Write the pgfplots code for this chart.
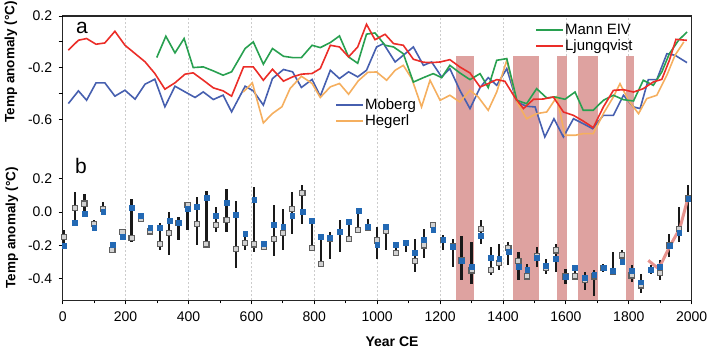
\documentclass[border=0pt]{standalone}
\usepackage{fontspec}
\setmainfont{Liberation Sans}
\usepackage{pgfplots}
\pgfplotsset{compat=1.18}
\usepackage{pgfplotstable}

\definecolor{cgreen}{RGB}{40,160,80}
\definecolor{cred}{RGB}{235,45,40}
\definecolor{cblue}{RGB}{70,95,175}
\definecolor{corange}{RGB}{245,175,95}
\definecolor{cpink}{RGB}{222,162,160}
\definecolor{cmark}{RGB}{35,105,180}
\definecolor{cgray}{RGB}{95,95,95}
\definecolor{cline}{RGB}{230,135,130}

\pgfplotstableread{
year val
18 -0.476
50 -0.378
76 -0.450
106 -0.316
134 -0.316
166 -0.419
198 -0.373
230 -0.442
262 -0.326
293 -0.288
325 -0.501
357 -0.342
389 -0.386
421 -0.429
447 -0.386
479 -0.445
510 -0.411
537 -0.540
580 -0.342
606 -0.378
638 -0.488
667 -0.283
702 -0.213
731 -0.231
759 -0.352
793 -0.290
819 -0.419
851 -0.219
880 -0.283
909 -0.231
938 -0.270
966 -0.219
998 -0.039
1020 -0.013
1057 -0.155
1083 -0.103
1115 -0.039
1147 -0.181
1173 -0.155
1205 -0.271
1231 -0.206
1263 -0.374
1295 -0.515
1327 -0.353
1353 -0.276
1380 -0.335
1412 -0.206
1444 -0.464
1475 -0.497
1502 -0.502
1533 -0.734
1562 -0.593
1592 -0.734
1624 -0.593
1655 -0.631
1685 -0.670
1719 -0.567
1751 -0.567
1783 -0.412
1815 -0.502
1836 -0.515
1862 -0.291
1889 -0.291
1921 -0.091
1947 -0.103
1985 -0.160
}\moberg

\pgfplotstableread{
year val
574 -0.387
603 -0.316
638 -0.625
667 -0.553
697 -0.501
723 -0.360
759 -0.265
793 -0.321
819 -0.429
851 -0.347
880 -0.321
909 -0.404
940 -0.300
970 -0.235
998 -0.232
1030 -0.296
1057 -0.219
1083 -0.181
1110 -0.284
1141 -0.502
1168 -0.296
1200 -0.451
1231 -0.412
1263 -0.464
1295 -0.374
1321 -0.425
1353 -0.528
1380 -0.387
1412 -0.142
1444 -0.464
1475 -0.593
1507 -0.554
1539 -0.541
1571 -0.425
1597 -0.721
1629 -0.721
1655 -0.708
1687 -0.708
1719 -0.554
1751 -0.425
1772 -0.322
1799 -0.451
1831 -0.554
1857 -0.438
1889 -0.412
1921 -0.257
1947 -0.103
1975 0.000
}\hegerl

\pgfplotstableread{
year val
299 -0.121
328 0.044
357 -0.085
386 0.026
415 -0.198
447 -0.193
479 -0.224
510 -0.257
537 -0.231
580 -0.051
606 0.000
638 -0.172
667 -0.051
702 -0.111
731 -0.121
759 -0.121
793 -0.026
819 -0.044
851 -0.005
880 0.046
909 -0.116
938 -0.165
966 0.060
993 0.069
1025 -0.026
1052 -0.039
1083 -0.091
1115 -0.310
1147 -0.276
1178 -0.245
1205 -0.276
1231 -0.181
1263 -0.240
1295 -0.291
1327 -0.245
1353 -0.353
1380 -0.142
1412 -0.129
1444 -0.451
1475 -0.477
1507 -0.361
1539 -0.433
1565 -0.425
1597 -0.443
1629 -0.387
1655 -0.528
1687 -0.528
1719 -0.451
1751 -0.412
1783 -0.446
1815 -0.456
1846 -0.296
1878 -0.335
1905 -0.232
1929 -0.091
1958 0.012
1985 0.077
}\mann

\pgfplotstableread{
year val
18 -0.064
50 0.013
76 0.026
106 -0.018
134 -0.008
166 0.082
198 -0.026
230 -0.090
262 -0.154
293 -0.244
325 -0.365
357 -0.316
389 -0.249
415 -0.239
447 -0.296
479 -0.355
510 -0.378
537 -0.419
575 -0.193
606 -0.193
638 -0.296
667 -0.211
702 -0.303
731 -0.270
759 -0.249
793 -0.244
819 -0.206
851 -0.026
880 -0.039
909 -0.116
938 -0.039
966 0.136
993 0.017
1025 0.059
1052 -0.013
1083 -0.026
1115 -0.134
1147 -0.157
1173 -0.160
1200 -0.155
1231 -0.137
1263 -0.194
1295 -0.240
1327 -0.348
1353 -0.322
1380 -0.291
1406 -0.304
1438 -0.430
1465 -0.515
1497 -0.443
1528 -0.441
1560 -0.425
1592 -0.541
1624 -0.567
1655 -0.611
1687 -0.662
1719 -0.503
1751 -0.374
1783 -0.369
1815 -0.387
1846 -0.361
1878 -0.309
1905 -0.289
1929 -0.142
1950 0.020
1985 0.012
}\ljung

\pgfplotstableread{
year blue gray lo hi
5 -0.200 -0.150 -0.200 -0.110
39 -0.066 0.026 -0.066 0.120
69 -0.010 0.050 -0.010 0.106
100 -0.094 -0.070 -0.100 -0.050
129 0.000 0.020 0.000 0.060
158 -0.194 -0.226 -0.230 -0.180
190 -0.146 -0.120 -0.150 -0.110
219 0.026 -0.154 -0.180 0.080
248 -0.022 -0.040 -0.050 -0.010
278 -0.094 -0.116 -0.120 -0.086
309 -0.094 -0.190 -0.230 -0.066
339 -0.054 -0.126 -0.260 0.000
368 -0.066 -0.066 -0.170 -0.030
397 0.020 0.040 -0.110 0.050
427 0.030 -0.074 -0.200 0.090
457 0.084 -0.194 -0.194 0.126
487 -0.020 -0.076 -0.120 0.030
521 0.054 -0.050 -0.120 0.140
551 -0.014 -0.220 -0.334 0.066
580 -0.130 -0.186 -0.230 -0.120
609 0.076 -0.194 -0.240 0.150
640 -0.190 -0.210 -0.220 -0.180
672 -0.074 -0.160 -0.266 0.040
701 -0.086 -0.126 -0.230 0.020
730 -0.020 0.020 -0.130 0.120
762 0.000 0.114 -0.070 0.160
792 -0.054 -0.214 -0.230 -0.050
821 -0.150 -0.310 -0.330 -0.150
850 -0.154 -0.160 -0.280 -0.120
882 -0.116 -0.120 -0.240 -0.046
910 -0.060 -0.160 -0.170 -0.050
940 0.010 -0.106 -0.110 0.020
970 -0.090 -0.094 -0.110 -0.040
1000 -0.194 -0.170 -0.280 -0.090
1028 -0.086 -0.114 -0.230 -0.080
1060 -0.194 -0.246 -0.260 -0.200
1091 -0.186 -0.186 -0.240 -0.180
1120 -0.246 -0.294 -0.360 -0.160
1149 -0.166 -0.200 -0.274 -0.100
1178 -0.106 -0.080 -0.110 -0.070
1210 -0.166 -0.166 -0.230 -0.140
1240 -0.210 -0.206 -0.330 -0.160
1268 -0.290 -0.290 -0.410 -0.146
1300 -0.326 -0.350 -0.430 -0.180
1330 -0.140 -0.100 -0.194 -0.046
1361 -0.274 -0.346 -0.380 -0.210
1388 -0.280 -0.306 -0.350 -0.194
1417 -0.240 -0.216 -0.320 -0.180
1449 -0.326 -0.294 -0.410 -0.240
1477 -0.346 -0.386 -0.410 -0.310
1507 -0.274 -0.266 -0.330 -0.210
1537 -0.320 -0.334 -0.374 -0.280
1568 -0.280 -0.230 -0.360 -0.190
1599 -0.386 -0.386 -0.430 -0.340
1629 -0.334 -0.386 -0.410 -0.320
1661 -0.394 -0.406 -0.466 -0.360
1690 -0.374 -0.386 -0.506 -0.346
1719 -0.334 -0.334 -0.360 -0.310
1749 -0.354 -0.360 -0.380 -0.240
1779 -0.300 -0.260 -0.320 -0.230
1809 -0.350 -0.380 -0.420 -0.320
1839 -0.420 -0.440 -0.486 -0.370
1870 -0.346 -0.346 -0.374 -0.320
1899 -0.330 -0.366 -0.410 -0.290
1929 -0.200 -0.200 -0.270 -0.130
1960 -0.126 -0.100 -0.180 0.030
1989 0.080 0.080 -0.120 0.160
}\bdata

\pgfplotsset{
  base/.style={
    scale only axis, width=629pt, height=284.3pt,
    at={(62.7pt,48.7pt)}, anchor=south west,
    xmin=0, xmax=2000,
    tick align=outside, major tick length=4pt, minor tick length=3pt,
    every tick/.style={black, line width=0.9pt},
    tick label style={font=\fontsize{14}{16}\selectfont},
    tick pos=left,
  },
}

\begin{document}
\begin{tikzpicture}
\path[use as bounding box] (0pt,0pt) rectangle (712pt,349pt);

% bottom panel + frame
\begin{axis}[base,
  ymin=-0.529, ymax=1.174,
  axis line style={line width=1.1pt, black!85},
  xtick={0,200,...,2000},
  xticklabels={0,200,400,600,800,1000,1200,1400,1600,1800,2000},
  minor x tick num=1,
  ytick={-0.4,-0.2,0,0.2},
  yticklabels={-0.4,-0.2,0.0,0.2},
  xticklabel style={yshift=-4pt},
  yticklabel style={xshift=-3pt},
  xmajorgrids, grid style={gray!40, line width=0.8pt, dash pattern=on 2pt off 2pt},
]
\addplot[fill=cpink, draw=none, forget plot] coordinates {(1252,-0.529) (1307,-0.529) (1307,0.934) (1252,0.934)} -- cycle;
\addplot[fill=cpink, draw=none, forget plot] coordinates {(1431,-0.529) (1515,-0.529) (1515,0.934) (1431,0.934)} -- cycle;
\addplot[fill=cpink, draw=none, forget plot] coordinates {(1573,-0.529) (1604,-0.529) (1604,0.934) (1573,0.934)} -- cycle;
\addplot[fill=cpink, draw=none, forget plot] coordinates {(1637,-0.529) (1701,-0.529) (1701,0.934) (1637,0.934)} -- cycle;
\addplot[fill=cpink, draw=none, forget plot] coordinates {(1791,-0.529) (1817,-0.529) (1817,0.934) (1791,0.934)} -- cycle;

\addplot[only marks, mark=none, forget plot,
  error bars/.cd, y dir=both, y explicit, error mark=none,
  error bar style={draw=black!90, line width=2.2pt}]
  table[x=year, y=gray, y error plus expr=\thisrow{hi}-\thisrow{gray}, y error minus expr=\thisrow{gray}-\thisrow{lo}] {\bdata};
\addplot[cline, line width=3pt, opacity=0.9, forget plot] coordinates {(1862,-0.29) (1888,-0.33) (1903,-0.31) (1932,-0.20) (1962,-0.10) (1989,0.09)};
\addplot[only marks, mark=square*, mark size=2.6pt, mark options={draw=cgray, line width=1.1pt, fill=gray!35}, forget plot] table[x=year, y=gray] {\bdata};
\addplot[only marks, mark=square*, mark size=2.4pt, mark options={draw=cmark, fill=cmark}, forget plot] table[x=year, y=blue] {\bdata};
\end{axis}

% top panel: Moberg, Hegerl
\begin{axis}[base,
  ymin=-1.995, ymax=0.2,
  hide x axis, axis y line*=left, y axis line style={draw=none},
  ytick={0.2,0,-0.2,-0.4,-0.6},
  yticklabels={0.2,,-0.2,,-0.6},
  yticklabel style={xshift=-3pt},
  legend cell align=left,
  legend style={draw=none, fill=none, inner sep=0pt, row sep=1.5pt,
    font=\fontsize{15}{18}\selectfont, nodes={inner sep=1pt},
    at={(rel axis cs:0.433,0.712)}, anchor=north west},
]
\addplot[cblue, line width=1.6pt,
  legend image code/.code={\draw[cblue, line width=1.8pt] (0pt,0pt) -- (27pt,0pt);}]
  table[x=year, y=val] {\moberg};
\addlegendentry{Moberg}
\addplot[corange, line width=1.6pt,
  legend image code/.code={\draw[corange, line width=1.8pt] (0pt,0pt) -- (27pt,0pt);}]
  table[x=year, y=val] {\hegerl};
\addlegendentry{Hegerl}
\end{axis}

% top panel: Mann EIV, Ljungqvist
\begin{axis}[base,
  ymin=-1.995, ymax=0.2,
  hide x axis, hide y axis,
  legend cell align=left,
  legend style={draw=none, fill=none, inner sep=0pt, row sep=1.5pt,
    font=\fontsize{15}{18}\selectfont, nodes={inner sep=1pt},
    at={(rel axis cs:0.751,0.975)}, anchor=north west},
]
\addplot[cgreen, line width=1.6pt,
  legend image code/.code={\draw[cgreen, line width=1.8pt] (0pt,0pt) -- (27pt,0pt);}]
  table[x=year, y=val] {\mann};
\addlegendentry{Mann EIV}
\addplot[cred, line width=1.6pt,
  legend image code/.code={\draw[cred, line width=1.8pt] (0pt,0pt) -- (27pt,0pt);}]
  table[x=year, y=val] {\ljung};
\addlegendentry{Ljungqvist}
\end{axis}

\node[font=\fontsize{21}{23}\selectfont] at (82pt,321pt) {a};
\node[font=\fontsize{21}{23}\selectfont] at (81pt,183pt) {b};
\node[rotate=90, font=\bfseries\fontsize{13.5}{15}\selectfont] at (11pt,287pt) {Temp anomaly (°C)};
\node[rotate=90, font=\bfseries\fontsize{13.5}{15}\selectfont] at (12pt,121pt) {Temp anomaly (°C)};
\node[font=\bfseries\fontsize{14}{16}\selectfont] at (392pt,7pt) {Year CE};
\end{tikzpicture}
\end{document}
